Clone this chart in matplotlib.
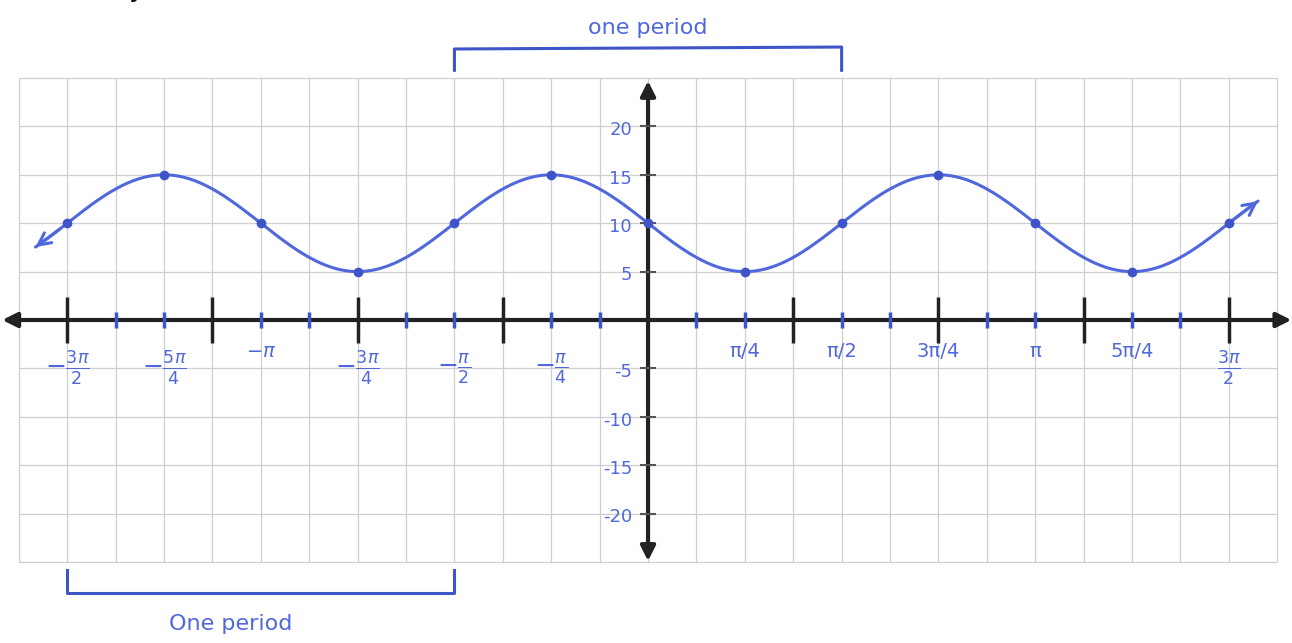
import numpy as np
import matplotlib.pyplot as plt

blue = "#5068dc"
ink = "#3d55c8"
axis_col = "#222222"

# key points of the sketch, x in units of pi/4
key_x = np.array([-6, -5, -4, -3, -2, -1, 0, 1, 2, 3, 4, 5, 6]) * np.pi / 4
key_y = np.array([10, 15, 10, 5, 10, 15, 10, 5, 10, 15, 10, 5, 10])
period = np.pi
curve_start, curve_end = -4.97, 4.95

# x-axis labels (positions in units of pi/4)
label_pos = [-6, -5, -4, -3, -2, -1, 1, 2, 3, 4, 5, 6]
label_txt = [r"$-\frac{3\pi}{2}$", r"$-\frac{5\pi}{4}$", r"$-\pi$", r"$-\frac{3\pi}{4}$",
             r"$-\frac{\pi}{2}$", r"$-\frac{\pi}{4}$", "π/4", "π/2", "3π/4", "π",
             "5π/4", r"$\frac{3\pi}{2}$"]
y_labels = [20, 15, 10, 5, -5, -10, -15, -20]

# brackets marking a period
top_bracket = (-np.pi / 2, np.pi / 2)
bottom_bracket = (-3 * np.pi / 2, -np.pi / 2)

fig = plt.figure(figsize=(12.92, 6.43), dpi=100)
ax = fig.add_axes([0, 0, 1, 1])
ax.set_xlim(-5.258, 5.225)
ax.set_ylim(-33.37, 33.06)
ax.axis("off")

# graph paper
step = np.pi / 8
gx = np.arange(-13, 14) * step
gy = np.arange(-25, 26, 5)
ax.vlines(gx, -25, 25, color="#cfcfcf", lw=0.9, zorder=1)
ax.hlines(gy, gx[0], gx[-1], color="#cfcfcf", lw=0.9, zorder=1)

# axes with arrows
ax.annotate("", xy=(5.22, 0), xytext=(-5.24, 0),
            arrowprops=dict(arrowstyle="<|-|>", lw=3, color=axis_col, mutation_scale=22,
                            shrinkA=0, shrinkB=0), zorder=3)
ax.annotate("", xy=(0, 24.7), xytext=(0, -24.9),
            arrowprops=dict(arrowstyle="<|-|>", lw=3, color=axis_col, mutation_scale=22,
                            shrinkA=0, shrinkB=0), zorder=3)

# x-axis ticks: long black ones every 3pi/8, short blue ones in between
k = np.arange(-12, 13)
major = k[(k % 3 == 0) & (k != 0)] * step
minor = k[(k % 3 != 0)] * step
ax.vlines(major, -2.4, 2.4, color=axis_col, lw=2.5, zorder=4)
ax.vlines(minor, -0.8, 0.8, color=ink, lw=2.5, zorder=4)

# y-axis ticks
ax.hlines(y_labels, -0.065, 0.065, color="#555555", lw=1.5, zorder=4)

for p, t in zip(label_pos, label_txt):
    x = p * np.pi / 4
    if t.startswith("$") and "frac" in t:
        ax.text(x, -5.0, t, color=blue, fontsize=18, ha="center", va="center")
    else:
        ax.text(x, -3.3, t, color=blue, fontsize=14, ha="center", va="center")

for v in y_labels:
    ax.text(-0.13, v - 0.4, str(v), color=blue, fontsize=13, ha="right", va="center")

# the curve: midline and amplitude from the key points
mid = (key_y.max() + key_y.min()) / 2
amp = (key_y.max() - key_y.min()) / 2
xs = np.linspace(curve_start, curve_end, 600)
ys = mid - amp * np.sin(2 * np.pi / period * xs)
ax.plot(xs, ys, color=blue, lw=2.2, zorder=5, solid_capstyle="round")
ax.plot(key_x, key_y, "o", color=ink, ms=6, zorder=6)
ax.annotate("", xy=(xs[0], ys[0]), xytext=(xs[12], ys[12]),
            arrowprops=dict(arrowstyle="->", color=blue, lw=2.2, mutation_scale=22,
                            shrinkA=0, shrinkB=0), zorder=6)
ax.annotate("", xy=(xs[-1], ys[-1]), xytext=(xs[-13], ys[-13]),
            arrowprops=dict(arrowstyle="->", color=blue, lw=2.2, mutation_scale=22,
                            shrinkA=0, shrinkB=0), zorder=6)

# period brackets
a, b = top_bracket
ax.plot([a, a, b, b], [25.8, 28.0, 28.2, 25.8], color=ink, lw=2.2, zorder=5)
ax.text((a + b) / 2, 30.2, "one period", color=blue, fontsize=16, ha="center", va="center")
a, b = bottom_bracket
ax.plot([a, a, b, b], [-25.8, -28.2, -28.2, -25.8], color=ink, lw=2.2, zorder=5)
ax.text(-3.39, -31.4, "One period", color=blue, fontsize=16, ha="center", va="center")

# equation heading, only its descenders reach onto the page
fig.text(0.1, 1.019, "y = 5 sin(2x + π) + 10", fontsize=20, color="#111111",
         ha="left", va="center")

fig.savefig("out.png", dpi=100, facecolor="white")
